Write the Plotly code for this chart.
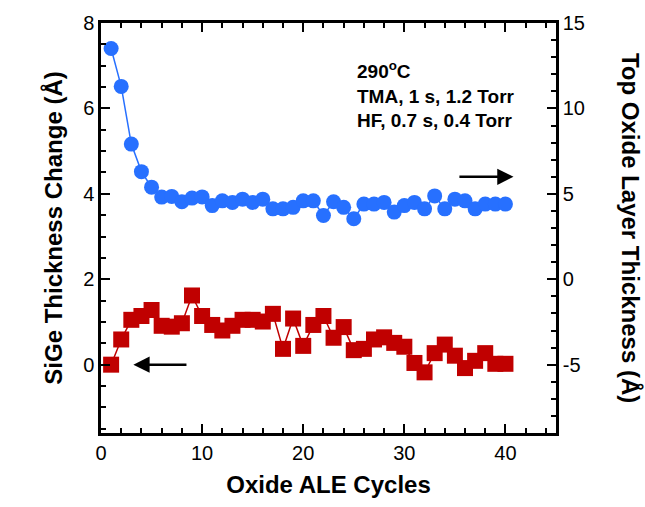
import plotly.graph_objects as go

# Cycle numbers
cycles = list(range(1, 41))

# SiGe thickness change (Å), left axis
sige_change = [0.00, 0.59, 1.05, 1.14, 1.28, 0.91, 0.89, 0.97, 1.62, 1.14,
               0.93, 0.80, 0.91, 1.05, 1.05, 1.01, 1.19, 0.37, 1.08, 0.44,
               0.93, 1.14, 0.63, 0.88, 0.34, 0.37, 0.59, 0.64, 0.51, 0.42,
               0.04, -0.18, 0.27, 0.47, 0.21, -0.08, 0.09, 0.27, 0.02, 0.02]

# Top oxide layer thickness (Å), right axis
oxide_thickness = [13.51, 11.29, 7.91, 6.30, 5.39, 4.81, 4.85, 4.54, 4.75, 4.82,
                   4.31, 4.59, 4.50, 4.69, 4.50, 4.69, 4.12, 4.12, 4.21, 4.59,
                   4.59, 3.73, 4.54, 4.21, 3.54, 4.40, 4.40, 4.50, 3.93, 4.31,
                   4.50, 4.12, 4.88, 4.12, 4.69, 4.59, 4.12, 4.40, 4.40, 4.40]

# Tick labels
x_ticks = [0, 10, 20, 30, 40]
y_left_ticks = [0, 2, 4, 6, 8]
y_right_ticks = [-5, 0, 5, 10, 15]
y_right_labels = ["-5", "0", "5", "10", "15"]

BLUE = "#2770FF"
RED = "#C00000"
FONT = "Liberation Sans, Arial, sans-serif"

fig = go.Figure()

fig.add_trace(go.Scatter(
    x=cycles, y=sige_change, mode="lines+markers",
    line=dict(color=RED, width=1.5),
    marker=dict(symbol="square", size=16, color=RED),
    yaxis="y", showlegend=False,
))

fig.add_trace(go.Scatter(
    x=cycles, y=oxide_thickness, mode="lines+markers",
    line=dict(color=BLUE, width=1.5),
    marker=dict(symbol="circle", size=15, color=BLUE),
    yaxis="y2", showlegend=False,
))

axis_common = dict(
    showline=True, linecolor="black", linewidth=2.5,
    ticks="inside", tickcolor="black", tickwidth=2, ticklen=9,
    showgrid=False, zeroline=False,
    tickfont=dict(family=FONT, size=20, color="black"),
)

fig.update_layout(
    width=645, height=507,
    margin=dict(l=101, r=89, t=21, b=72),
    paper_bgcolor="white", plot_bgcolor="white",
    xaxis=dict(
        **axis_common, range=[0, 45], tickvals=x_ticks, mirror="ticks",
        minor=dict(dtick=2, tick0=0, ticks="inside", ticklen=5, tickwidth=2, tickcolor="black"),
        title=dict(text="<b>Oxide ALE Cycles</b>", font=dict(family=FONT, size=24, color="black"), standoff=14),
    ),
    yaxis=dict(
        **axis_common, range=[-1.6, 8], tickvals=y_left_ticks,
        minor=dict(dtick=0.5, tick0=0, ticks="inside", ticklen=5, tickwidth=2, tickcolor="black"),
        title=dict(text="<b>SiGe Thickness Change (Å)</b>", font=dict(family=FONT, size=24, color="black"), standoff=14),
    ),
    yaxis2=dict(
        **axis_common, range=[-9, 15], overlaying="y", side="right",
        tickvals=y_right_ticks, ticktext=y_right_labels,
        minor=dict(dtick=1, tick0=0, ticks="inside", ticklen=5, tickwidth=2, tickcolor="black"),
    ),
)

# Right axis title reads top to bottom
fig.add_annotation(
    text="<b>Top Oxide Layer Thickness (Å)</b>", textangle=90,
    xref="paper", yref="paper", x=1.165, y=0.5,
    xanchor="center", yanchor="middle", showarrow=False,
    font=dict(family=FONT, size=24, color="black"),
)

# Process conditions
fig.add_annotation(
    text="<b>290<sup>o</sup>C<br>TMA, 1 s, 1.2 Torr<br>HF, 0.7 s, 0.4 Torr</b>",
    xref="paper", yref="paper", x=0.558, y=0.826,
    xanchor="left", yanchor="middle", align="left", showarrow=False,
    font=dict(family=FONT, size=19, color="black"),
)

# Arrows pointing to each series' axis
fig.add_annotation(
    x=3.2, y=0, ax=8.6, ay=0, xref="x", yref="y", axref="x", ayref="y",
    showarrow=True, arrowhead=2, arrowsize=1.3, arrowwidth=2.5, arrowcolor="black", text="",
)
fig.add_annotation(
    x=40.8, y=6, ax=35.3, ay=6, xref="x", yref="y2", axref="x", ayref="y2",
    showarrow=True, arrowhead=2, arrowsize=1.3, arrowwidth=2.5, arrowcolor="black", text="",
)

fig.write_html("out.html")
